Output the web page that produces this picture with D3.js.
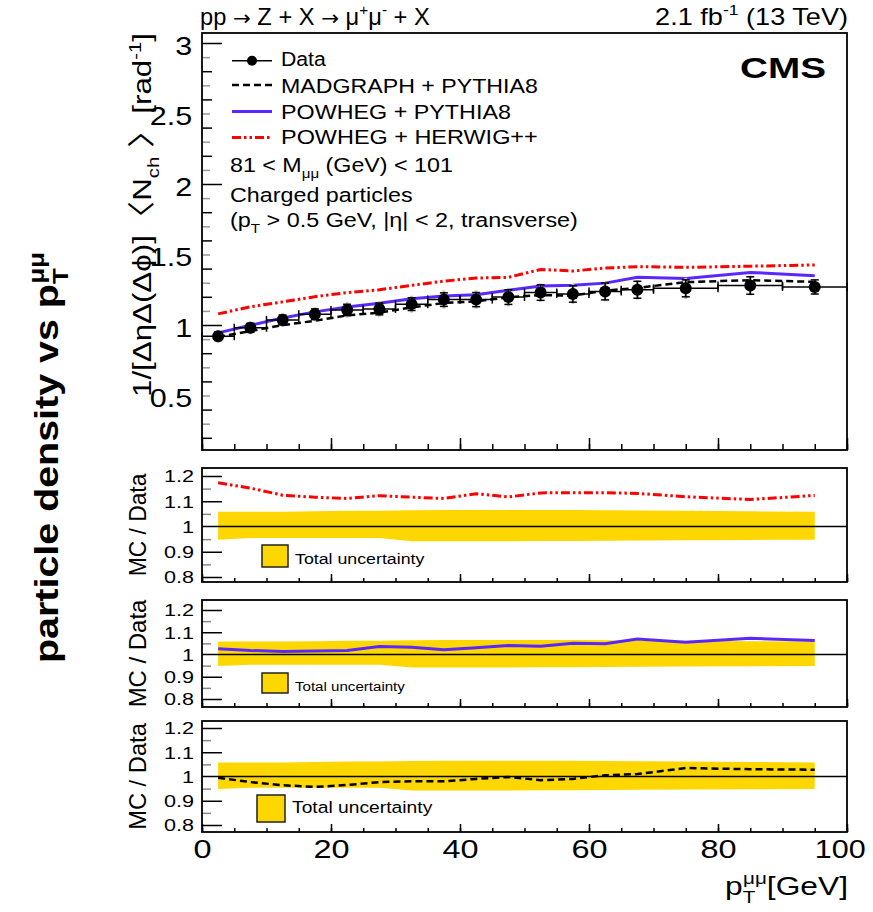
<!DOCTYPE html>
<html lang="en">
<head>
<meta charset="UTF-8">
<title>Charged particle density vs pT(mumu)</title>
<script src="https://d3js.org/d3.v7.min.js"></script>
<style>
  body { margin: 0; background: #fff; }
  svg text { font-family: "Liberation Sans", Arial, Helvetica, sans-serif; fill: #000; }
</style>
</head>
<body>
<div id="chart"></div>
<script>
// pT(mumu) bins [GeV]
const binEdges = [0, 5, 10, 15, 20, 25, 30, 35, 40, 45, 50, 55, 60, 65, 70, 80, 90, 100];
const binCenters = [2.5, 7.5, 12.5, 17.5, 22.5, 27.5, 32.5, 37.5, 42.5, 47.5, 52.5, 57.5, 62.5, 67.5, 75, 85, 95];

// measured density and its uncertainties
const dataVals = [0.92, 0.98, 1.036, 1.076, 1.107, 1.114, 1.148, 1.18, 1.18, 1.198, 1.23, 1.22, 1.238, 1.25, 1.26, 1.28, 1.27];
const statErr  = [0.03, 0.032, 0.035, 0.038, 0.04, 0.042, 0.045, 0.048, 0.05, 0.052, 0.055, 0.058, 0.06, 0.06, 0.06, 0.062, 0.05];
const totErr   = [0.045, 0.045, 0.05, 0.05, 0.055, 0.055, 0.06, 0.065, 0.065, 0.065, 0.065, 0.07, 0.07, 0.07, 0.075, 0.07, 0.055];

// generator predictions (main panel)
const madgraph  = [0.915, 0.957, 0.999, 1.03, 1.068, 1.088, 1.125, 1.156, 1.168, 1.196, 1.212, 1.208, 1.244, 1.263, 1.304, 1.318, 1.306];
const powhegPy8 = [0.944, 0.998, 1.05, 1.093, 1.127, 1.154, 1.186, 1.205, 1.215, 1.246, 1.276, 1.282, 1.297, 1.338, 1.329, 1.373, 1.35];
const powhegHw  = [1.079, 1.129, 1.164, 1.201, 1.23, 1.25, 1.281, 1.311, 1.333, 1.338, 1.394, 1.383, 1.404, 1.414, 1.409, 1.417, 1.426];

// MC / Data ratios
const ratioHw  = [1.173, 1.152, 1.124, 1.116, 1.111, 1.122, 1.116, 1.111, 1.13, 1.117, 1.133, 1.134, 1.134, 1.131, 1.118, 1.107, 1.123];
const ratioPy8 = [1.026, 1.018, 1.014, 1.016, 1.018, 1.036, 1.033, 1.021, 1.03, 1.04, 1.037, 1.051, 1.048, 1.07, 1.055, 1.073, 1.063];
const ratioMad = [0.995, 0.977, 0.964, 0.957, 0.965, 0.977, 0.98, 0.98, 0.99, 0.998, 0.985, 0.99, 1.005, 1.01, 1.035, 1.03, 1.028];

// total relative uncertainty band (up / down)
const uncHi = [0.058, 0.058, 0.058, 0.06, 0.062, 0.062, 0.064, 0.065, 0.065, 0.065, 0.065, 0.065, 0.064, 0.063, 0.062, 0.06, 0.058];
const uncLo = [0.052, 0.046, 0.046, 0.046, 0.046, 0.046, 0.058, 0.058, 0.058, 0.058, 0.057, 0.057, 0.056, 0.055, 0.054, 0.053, 0.052];

// tick labels
const xTicks = [0, 20, 40, 60, 80, 100];
const mainTicks = [0.5, 1, 1.5, 2, 2.5, 3];
const ratioTicks = [0.8, 0.9, 1, 1.1, 1.2];

const width = 873, height = 912;
const svg = d3.select("#chart").append("svg")
  .attr("width", width)
  .attr("height", height);

const x = d3.scaleLinear().domain([0, 100]).range([202, 847]);
const yMain = d3.scaleLinear().domain([1, 3]).range([325, 43]);
const mainTop = 33, mainBottom = 450;

const styles = {
  mad: { stroke: "#000", width: 2.5, dash: "7,4" },
  py8: { stroke: "#5a28ff", width: 3, dash: null },
  hw:  { stroke: "#ff0000", width: 3, dash: "9,3,2.5,3,2.5,3" }
};

// text with sub/superscripts, parts = [[string, kind, dx, scale, font]]
function rich(g, parts, size, opts = {}) {
  const t = g.append("text")
    .attr("font-size", size)
    .attr("font-weight", opts.bold ? "bold" : null)
    .attr("text-anchor", opts.anchor || "start");
  let off = 0;
  parts.forEach(([s, kind, dxv, sc, font]) => {
    const target = kind === "sup" ? -0.42 * size : kind === "sub" ? 0.3 * size : 0;
    const ts = t.append("tspan").text(s).attr("dy", target - off);
    if (kind === "sup" || kind === "sub") ts.attr("font-size", size * 0.65);
    if (kind === "sym") ts.attr("font-family", font || "DejaVu Sans").attr("font-size", size * (sc || 1));
    if (dxv) ts.attr("dx", dxv);
    off = target;
  });
  return t;
}

// place text and stretch it to a target length
function place(t, px, py, w, rot) {
  const len = t.node().getBBox().width;
  const k = w ? w / len : 1;
  t.attr("transform", `translate(${px},${py})${rot ? ` rotate(${rot})` : ""} scale(${k},1)`);
}

function line(xs, ys, y, st) {
  return svg.append("path")
    .datum(xs.map((d, i) => [x(d), y(ys[i])]))
    .attr("d", d3.line())
    .attr("fill", "none")
    .attr("stroke", st.stroke)
    .attr("stroke-width", st.width)
    .attr("stroke-dasharray", st.dash);
}

function yTicks(y, values, size, color) {
  const g = svg.append("g").attr("transform", `translate(${x(0)},0)`)
    .call(d3.axisLeft(y).tickValues(values).tickSize(-size).tickFormat(""));
  g.select(".domain").remove();
  g.selectAll("line").attr("stroke", color).attr("stroke-width", 1.5);
}

function xTickMarks(yPos, minor, major) {
  const g1 = svg.append("g").attr("transform", `translate(0,${yPos})`)
    .call(d3.axisBottom(x).tickValues(d3.range(0, 101, 5)).tickSize(-minor).tickFormat(""));
  const g2 = svg.append("g").attr("transform", `translate(0,${yPos})`)
    .call(d3.axisBottom(x).tickValues(xTicks).tickSize(-major).tickFormat(""));
  [g1, g2].forEach(g => {
    g.select(".domain").remove();
    g.selectAll("line").attr("stroke", "#000").attr("stroke-width", 1.5);
  });
}

// ---------- main panel ----------
const r1 = d3.range(0.2, 3.01, 0.1).map(v => +v.toFixed(1));
yTicks(yMain, r1.filter(v => Math.round(v * 10) % 2 === 1), 8, "#999");
yTicks(yMain, r1.filter(v => Math.round(v * 10) % 2 === 0 && v % 1 !== 0), 10, "#000");
yTicks(yMain, [1, 2, 3], 20, "#000");
xTickMarks(mainBottom, 6, 12);

const yLab = svg.append("g").attr("transform", `translate(${x(0)},0)`)
  .call(d3.axisLeft(yMain).tickValues(mainTicks).tickSize(0).tickPadding(8).tickFormat(d3.format("")));
yLab.select(".domain").remove();
yLab.selectAll("text")
  .attr("font-size", 25)
  .attr("dy", "0.45em")
  .attr("transform", "scale(1.22,1)");

line(binCenters, powhegHw, yMain, styles.hw);
line(binCenters, madgraph, yMain, styles.mad);
line(binCenters, powhegPy8, yMain, styles.py8);

// data with error bars
const pts = svg.append("g");
binCenters.forEach((c, i) => {
  const v = dataVals[i];
  pts.append("line")
    .attr("x1", x(c)).attr("x2", x(c))
    .attr("y1", yMain(v - totErr[i])).attr("y2", yMain(v + totErr[i]))
    .attr("stroke", "#bbb").attr("stroke-width", 3);
  pts.append("line")
    .attr("x1", x(binEdges[i])).attr("x2", x(binEdges[i + 1]))
    .attr("y1", yMain(v)).attr("y2", yMain(v))
    .attr("stroke", "#000").attr("stroke-width", 1.5);
  [binEdges[i], binEdges[i + 1]].forEach(e => {
    pts.append("line")
      .attr("x1", x(e)).attr("x2", x(e))
      .attr("y1", yMain(v) - 4).attr("y2", yMain(v) + 4)
      .attr("stroke", "#000").attr("stroke-width", 1.5);
  });
  pts.append("line")
    .attr("x1", x(c)).attr("x2", x(c))
    .attr("y1", yMain(v - statErr[i])).attr("y2", yMain(v + statErr[i]))
    .attr("stroke", "#000").attr("stroke-width", 1.5);
  [v - statErr[i], v + statErr[i]].forEach(e => {
    pts.append("line")
      .attr("x1", x(c) - 4).attr("x2", x(c) + 4)
      .attr("y1", yMain(e)).attr("y2", yMain(e))
      .attr("stroke", "#000").attr("stroke-width", 1.5);
  });
  pts.append("circle")
    .attr("cx", x(c)).attr("cy", yMain(v)).attr("r", 6)
    .attr("fill", "#000");
});

svg.append("rect")
  .attr("x", x(0)).attr("y", mainTop)
  .attr("width", x(100) - x(0)).attr("height", mainBottom - mainTop)
  .attr("fill", "none").attr("stroke", "#000").attr("stroke-width", 1.8);

// legend
const leg = svg.append("g");
const legRows = [
  { name: "Data", cy: 60.7, base: 66, w: 45 },
  { name: "MADGRAPH + PYTHIA8", cy: 85, base: 93, w: 257, st: styles.mad },
  { name: "POWHEG + PYTHIA8", cy: 111.5, base: 119, w: 230, st: styles.py8 },
  { name: "POWHEG + HERWIG++", cy: 137.5, base: 144, w: 257, st: styles.hw }
];
legRows.forEach(r => {
  const st = r.st || { stroke: "#000", width: 1.5, dash: null };
  leg.append("line")
    .attr("x1", 232).attr("x2", 272).attr("y1", r.cy).attr("y2", r.cy)
    .attr("stroke", st.stroke).attr("stroke-width", st.width)
    .attr("stroke-dasharray", st.dash);
  if (!r.st) leg.append("circle").attr("cx", 252).attr("cy", r.cy).attr("r", 5).attr("fill", "#000");
  place(rich(leg, [[r.name]], 19.5), 281, r.base, r.w);
});
place(rich(leg, [["81 < M"], ["μμ", "sub"], [" (GeV) < 101"]], 19.5), 230, 172, 223);
place(rich(leg, [["Charged particles"]], 19.5), 230, 202, 183);
place(rich(leg, [["(p"], ["T", "sub"], [" > 0.5 GeV, |η| < 2, transverse)"]], 19.5), 230, 227, 348);

place(rich(svg, [["CMS"]], 29, { bold: true }), 740, 78, 86);

// titles
place(rich(svg, [["pp "], ["→", "sym", 0, 0.9], [" Z + X "], ["→", "sym", 0, 0.9], [" μ"], ["+", "sup"], ["μ"], ["-", "sup"], [" + X"]], 23),
  200, 25, 230);
place(rich(svg, [["2.1 fb"], ["-1", "sup"], [" (13 TeV)"]], 23, { anchor: "end" }), 848, 25, 193);

// main y label
place(rich(svg, [["1/[ΔηΔ(Δϕ)]"], ["〈", "sym", 0, 1.1, "Noto Sans CJK SC"], ["N"], ["ch", "sub"], [" "],
  ["〉", "sym", 0, 1.1, "Noto Sans CJK SC"], ["[rad"], ["-1", "sup"], ["]"]], 25, { anchor: "middle" }),
  151, 215, 364, -90);

// ---------- ratio panels ----------
const panels = [
  { top: 468, bottom: 582, y: d3.scaleLinear().domain([0.8, 1.2]).range([577, 476]),
    mc: ratioHw, st: styles.hw, box: [262, 545, 26, 22], txt: [295, 564, 130, 15], lab: 103 },
  { top: 600, bottom: 707, y: d3.scaleLinear().domain([0.8, 1.2]).range([699, 610]),
    mc: ratioPy8, st: styles.py8, box: [262, 673, 26, 20], txt: [295, 691, 110, 12], lab: 108 },
  { top: 721, bottom: 832, y: d3.scaleLinear().domain([0.8, 1.2]).range([825, 728]),
    mc: ratioMad, st: styles.mad, box: [257, 795, 28, 27], txt: [292, 813, 141, 17], lab: 107 }
];

panels.forEach(p => {
  const y = p.y;
  svg.append("path")
    .datum(binCenters.map((c, i) => ({ c, hi: 1 + uncHi[i], lo: 1 - uncLo[i] })))
    .attr("d", d3.area().x(d => x(d.c)).y0(d => y(d.lo)).y1(d => y(d.hi)))
    .attr("fill", "#ffd700");

  svg.append("line")
    .attr("x1", x(0)).attr("x2", x(100)).attr("y1", y(1)).attr("y2", y(1))
    .attr("stroke", "#000").attr("stroke-width", 1.5);

  line(binCenters, p.mc, y, p.st);

  const minor = d3.range(0.8, 1.201, 0.05).map(v => +v.toFixed(2)).filter(v => Math.round(v * 100) % 10 !== 0);
  yTicks(y, minor, 9, "#888");
  yTicks(y, ratioTicks.filter(v => v !== 1), 20, "#000");
  xTickMarks(p.bottom, 4, 8);

  const lab = svg.append("g").attr("transform", `translate(${x(0)},0)`)
    .call(d3.axisLeft(y).tickValues(ratioTicks).tickSize(0).tickPadding(6).tickFormat(d3.format("")));
  lab.select(".domain").remove();
  lab.selectAll("text")
    .attr("font-size", 16)
    .attr("dy", "0.36em")
    .attr("transform", "scale(1.35,1)");

  svg.append("rect")
    .attr("x", x(0)).attr("y", p.top)
    .attr("width", x(100) - x(0)).attr("height", p.bottom - p.top)
    .attr("fill", "none").attr("stroke", "#000").attr("stroke-width", 1.8);

  svg.append("rect")
    .attr("x", p.box[0]).attr("y", p.box[1]).attr("width", p.box[2]).attr("height", p.box[3])
    .attr("fill", "#ffd700").attr("stroke", "#222").attr("stroke-width", 1.5);
  place(rich(svg, [["Total uncertainty"]], p.txt[3]), p.txt[0], p.txt[1], p.txt[2]);

  place(rich(svg, [["MC / Data"]], 23, { anchor: "middle" }), 146, (p.top + p.bottom) / 2, p.lab, -90);
});

// x labels on the bottom panel
const last = panels[panels.length - 1];
const xLab = svg.append("g").attr("transform", `translate(0,${last.bottom})`)
  .call(d3.axisBottom(x).tickValues(xTicks).tickSize(0).tickPadding(8).tickFormat(d3.format("")));
xLab.select(".domain").remove();
xLab.selectAll("text")
  .attr("font-size", 25)
  .attr("x", d => d === 100 ? -6 : 0)
  .attr("transform", d => d === 100 ? "scale(1.22,1)" : "scale(1.3,1)");

place(rich(svg, [["p"], ["T", "sub"], ["μμ", "sup", -10], ["[GeV]"]], 26, { anchor: "end" }), 848, 895, 123);

// side label
place(rich(svg, [["particle density vs p"], ["T", "sub"], ["μμ", "sup", -13]], 34, { bold: true }),
  58, 663, 411, -90);
</script>
</body>
</html>
